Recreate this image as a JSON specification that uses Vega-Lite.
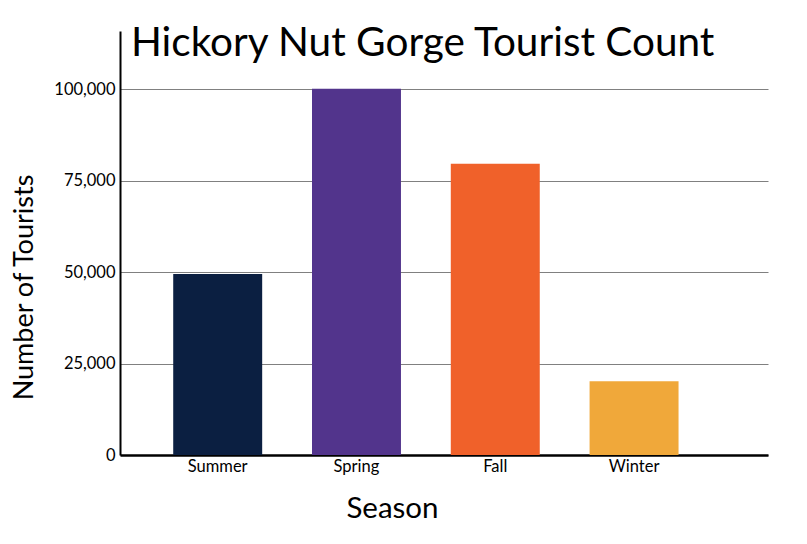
{
  "$schema": "https://vega.github.io/schema/vega-lite/v6.json",
  "width": 648,
  "height": 424,
  "autosize": {"type": "none"},
  "padding": {"left": 120, "top": 31, "right": 39, "bottom": 89},
  "background": "white",
  "title": {
    "text": "Hickory Nut Gorge Tourist Count",
    "anchor": "start",
    "frame": "group",
    "font": "Lato",
    "fontSize": 40.5,
    "fontWeight": "normal",
    "color": "#000000",
    "baseline": "alphabetic",
    "offset": 0,
    "dx": 11,
    "dy": 65
  },
  "data": {
    "values": [
      {"season": "Summer", "tourists": 49500},
      {"season": "Spring", "tourists": 100200},
      {"season": "Fall", "tourists": 79700},
      {"season": "Winter", "tourists": 20200}
    ]
  },
  "mark": {"type": "bar"},
  "encoding": {
    "x": {
      "field": "season",
      "type": "nominal",
      "sort": ["Summer", "Spring", "Fall", "Winter"],
      "scale": {"paddingInner": 0.359, "paddingOuter": 0.514, "align": 0.373},
      "axis": {
        "title": "Season",
        "labelAngle": 0,
        "labelFont": "Lato",
        "labelFontSize": 16.5,
        "labelColor": "#000000",
        "labelPadding": 3,
        "ticks": false,
        "domainColor": "#000000",
        "domainWidth": 2.5,
        "titleFont": "Lato",
        "titleFontSize": 29.5,
        "titleFontWeight": "normal",
        "titleColor": "#000000",
        "titleX": 272,
        "titleY": 62,
        "titleBaseline": "alphabetic"
      }
    },
    "y": {
      "field": "tourists",
      "type": "quantitative",
      "scale": {"domain": [0, 116000], "nice": false},
      "axis": {
        "title": "Number of Tourists",
        "values": [0, 25000, 50000, 75000, 100000],
        "format": ",d",
        "labelFont": "Lato",
        "labelFontSize": 16.5,
        "labelColor": "#000000",
        "labelPadding": 5,
        "ticks": false,
        "domainColor": "#000000",
        "domainWidth": 2,
        "grid": true,
        "gridColor": "#808080",
        "gridWidth": 1,
        "titleFont": "Lato",
        "titleFontSize": 27,
        "titleFontWeight": "normal",
        "titleColor": "#000000",
        "titleX": -88,
        "titleY": 256,
        "titleBaseline": "alphabetic"
      }
    },
    "color": {
      "field": "season",
      "type": "nominal",
      "scale": {
        "domain": ["Summer", "Spring", "Fall", "Winter"],
        "range": ["#0b1f41", "#52348c", "#f0612a", "#f0a83a"]
      },
      "legend": null
    }
  },
  "config": {"view": {"stroke": null}}
}
